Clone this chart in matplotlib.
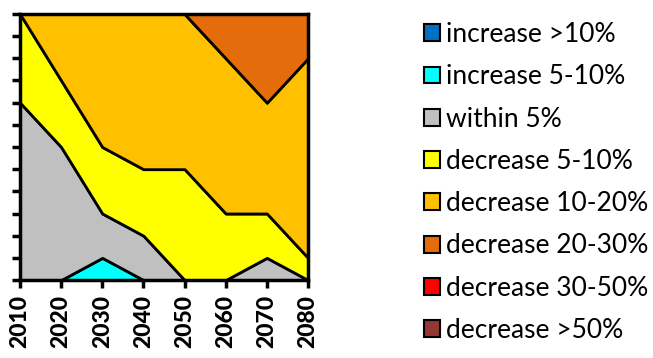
import matplotlib
matplotlib.use("Agg")
import matplotlib.pyplot as plt
from matplotlib.patches import Patch

# Data (number of cases per category, stacked bottom -> top)
years = [2010, 2020, 2030, 2040, 2050, 2060, 2070, 2080]
labels = ["increase >10%", "increase 5-10%", "within 5%", "decrease 5-10%",
          "decrease 10-20%", "decrease 20-30%", "decrease 30-50%", "decrease >50%"]
inc_gt10 = [0, 0, 0, 0, 0, 0, 0, 0]
inc_5_10 = [0, 0, 1, 0, 0, 0, 0, 0]
within_5 = [8, 6, 2, 2, 0, 0, 1, 0]
dec_5_10 = [4, 3, 3, 3, 5, 3, 2, 1]
dec_10_20 = [0, 3, 6, 7, 7, 7, 5, 9]
dec_20_30 = [0, 0, 0, 0, 0, 2, 4, 2]
dec_30_50 = [0, 0, 0, 0, 0, 0, 0, 0]
dec_gt50 = [0, 0, 0, 0, 0, 0, 0, 0]
colors = ["#0070C0", "#00FFFF", "#C0C0C0", "#FFFF00",
          "#FFC000", "#E46C0A", "#FF0000", "#953735"]

plt.rcParams['font.family'] = ['Lato', 'DejaVu Sans']

fig = plt.figure(figsize=(6.53, 3.58), dpi=100)
ax = fig.add_axes([20 / 653, 78 / 358, 288 / 653, 266 / 358])

series = [inc_gt10, inc_5_10, within_5, dec_5_10, dec_10_20, dec_20_30, dec_30_50, dec_gt50]
ax.stackplot(years, *series, colors=colors, edgecolor="black", linewidth=2)

ax.set_xlim(2010, 2080)
ax.set_ylim(0, 12)
ax.set_xticks(years)
ax.set_xticklabels([str(y) for y in years], rotation=90, fontsize=16.5, fontweight="black")
ax.set_yticks(range(0, 13))
ax.set_yticklabels([])
ax.tick_params(axis="both", direction="out", length=6, width=2.5, pad=3)
ax.tick_params(axis="x", pad=5)
for s in ax.spines.values():
    s.set_linewidth(2.5)

handles = [Patch(facecolor=c, edgecolor="black", linewidth=1.5) for c in colors]
fig.legend(handles, labels, loc="upper left", bbox_to_anchor=(424 / 653, 1 - 22 / 358),
           frameon=False, fontsize=19, handlelength=0.6, handleheight=0.6,
           handletextpad=0.25, labelspacing=0.655, borderpad=0, borderaxespad=0)

fig.savefig("out.png", dpi=100)
